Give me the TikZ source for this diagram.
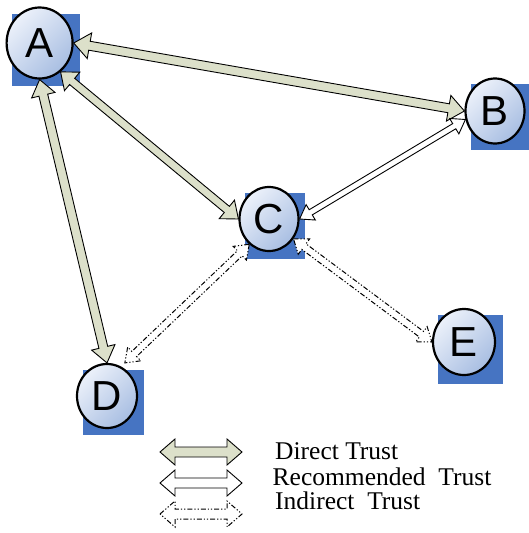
\documentclass[tikz,border=0pt]{standalone}
\usepackage{fontspec}
\setmainfont{Liberation Serif}
\newfontfamily\letterfont{Liberation Sans}
\usetikzlibrary{calc,shapes.geometric}
\definecolor{sqblue}{RGB}{70,116,194}
\definecolor{balllight}{RGB}{236,241,250}
\definecolor{balldark}{RGB}{168,190,226}
\definecolor{olivefill}{RGB}{220,224,202}
\newcommand\trustarrow[6]{%
  \draw[#1] (#2)
    -- ($(#2)!#6!(#3)!#5!90:(#3)$)
    -- ($(#2)!#6!(#3)!#4!90:(#3)$)
    -- ($(#3)!#6!(#2)!#4!-90:(#2)$)
    -- ($(#3)!#6!(#2)!#5!-90:(#2)$)
    -- (#3)
    -- ($(#3)!#6!(#2)!#5!90:(#2)$)
    -- ($(#3)!#6!(#2)!#4!90:(#2)$)
    -- ($(#2)!#6!(#3)!#4!-90:(#3)$)
    -- ($(#2)!#6!(#3)!#5!-90:(#3)$)
    -- cycle;}
\tikzset{
  ball/.style={ellipse, draw=black, line width=2.2pt, inner sep=0pt,
    top color=balllight, bottom color=balldark, shading angle=45,
    font=\letterfont\fontsize{42}{44}\selectfont},
  backsq/.style={fill=sqblue, draw=none},
  direct/.style={draw=black, line width=0.9pt, fill=olivefill, line join=miter},
  recom/.style={draw=black, line width=0.9pt, fill=white, line join=miter},
  indirect/.style={draw=black, line width=1pt, fill=white, line join=miter,
    dash pattern=on 5pt off 2pt on 1.2pt off 2pt on 1.2pt off 2pt},
  legendtext/.style={anchor=base west, inner sep=0pt, font=\fontsize{25.5}{27}\selectfont}
}
\begin{document}
\begin{tikzpicture}[x=1pt,y=-1pt]
\useasboundingbox (0,0) rectangle (529,533);
% blue squares
\fill[backsq] (12,14) rectangle (80,86);
\fill[backsq] (470.5,84) rectangle (529,150);
\fill[backsq] (244.5,193) rectangle (305,259);
\fill[backsq] (83,369.5) rectangle (144,435);
\fill[backsq] (438,315) rectangle (502.5,383.5);
% nodes
\node[ball, minimum width=66pt, minimum height=71pt] (A) at (39.6,43) {A};
\node[ball, minimum width=59pt, minimum height=65pt] (B) at (495,111) {B};
\node[ball, minimum width=59pt, minimum height=64pt] (C) at (269,219) {C};
\node[ball, minimum width=60pt, minimum height=64pt] (D) at (107,396) {D};
\node[ball, minimum width=62pt, minimum height=66pt] (E) at (464,342) {E};
% connectors
\trustarrow{direct}{A.east}{B.west}{4.5pt}{13pt}{16pt}
\trustarrow{direct}{A.-54}{C.west}{4pt}{12pt}{15pt}
\trustarrow{direct}{A.south}{D.north}{4.5pt}{12pt}{16pt}
\trustarrow{recom}{B.196}{C.east}{3pt}{9pt}{13pt}
\coordinate (dend) at ($(D.63)+(3,-4)$);
\trustarrow{indirect}{C.232}{dend}{3.5pt}{9.5pt}{13pt}
\trustarrow{indirect}{C.-39}{E.west}{3.5pt}{9.5pt}{13pt}
% legend
\coordinate (l1a) at (160,452); \coordinate (l1b) at (242,452);
\coordinate (l2a) at (160,483); \coordinate (l2b) at (242,483);
\coordinate (l3a) at (160,514); \coordinate (l3b) at (242,514);
\trustarrow{direct}{l1a}{l1b}{5pt}{13pt}{15pt}
\trustarrow{recom}{l2a}{l2b}{5pt}{13pt}{15pt}
\trustarrow{indirect}{l3a}{l3b}{5pt}{13pt}{15pt}
\node[legendtext] (t1) at (275,459.5) {Direct Trust};
\node[legendtext] (t2) at (272.5,485) {Recommended\ \ Trust};
\node[legendtext] (t3) at (275,509) {Indirect\ \ Trust};
\end{tikzpicture}
\end{document}
